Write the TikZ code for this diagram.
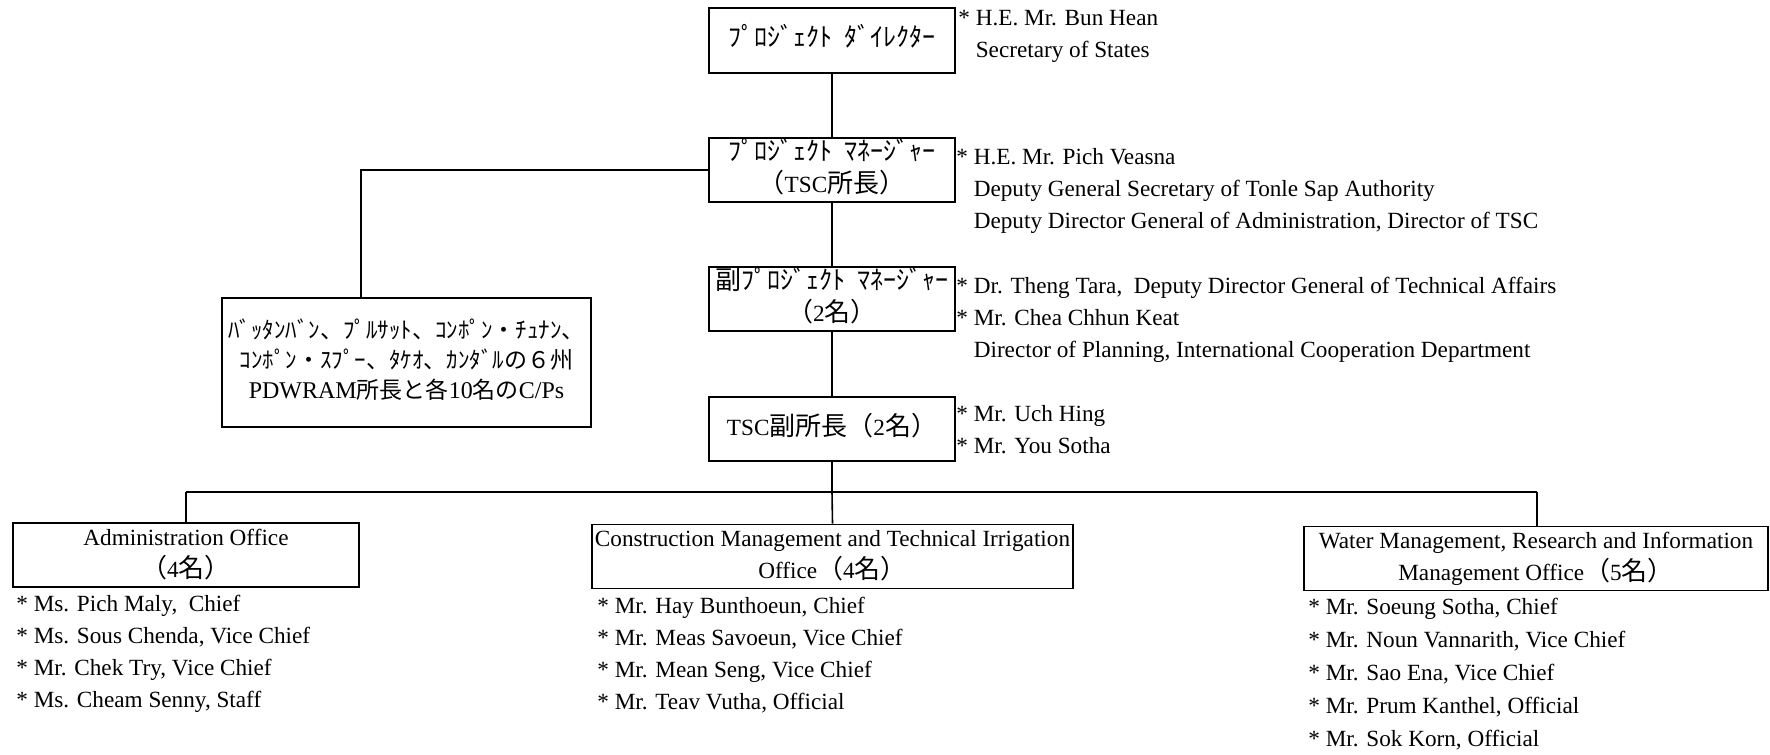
\documentclass[tikz,border=0pt]{standalone}
\usepackage{fontspec}
\setmainfont{Liberation Serif}
\newfontfamily\jp{Noto Sans CJK JP}
\newcommand\mainsz{\fontsize{11.6}{16}\selectfont}
\newcommand\katasz{\fontsize{13}{16}\selectfont}
\newcommand\provsz{\fontsize{11.5}{15}\selectfont}
\newcommand\ind{\hphantom{*\ }}
\newcommand\kgap{\hspace{0.45em}}
\begin{document}
\begin{tikzpicture}[x=0.5pt,y=-0.5pt,
  orgbox/.style={draw, line width=0.8pt, inner sep=0pt, align=center, font=\mainsz},
  info/.style={anchor=west, align=left, inner sep=0pt, font=\mainsz},
  link/.style={line width=0.8pt}]
\path[use as bounding box, fill=white] (0,0) rectangle (1770,754);

% main chain
\node[orgbox, minimum width=123pt, minimum height=32.5pt] (dir) at (832,40.5)
  {\strut{\jp\katasz ﾌﾟﾛｼﾞｪｸﾄ\kgap ﾀﾞｲﾚｸﾀｰ}};
\node[orgbox, minimum width=123pt, minimum height=32pt] (mgr) at (832,170)
  {\strut{\jp\katasz ﾌﾟﾛｼﾞｪｸﾄ\kgap ﾏﾈｰｼﾞｬｰ}\\\strut{\jp\katasz （}TSC{\jp\katasz 所長）}};
\node[orgbox, minimum width=123pt, minimum height=32pt] (dmgr) at (832,299)
  {\strut{\jp\katasz 副ﾌﾟﾛｼﾞｪｸﾄ\kgap ﾏﾈｰｼﾞｬｰ}\\\strut{\jp\katasz （}2{\jp\katasz 名）}};
\node[orgbox, minimum width=123pt, minimum height=32pt] (vdir) at (832,429)
  {\strut TSC{\jp\katasz 副所長（}2{\jp\katasz 名）}};

% provinces box
\node[orgbox, font=\provsz, minimum width=184.5pt, minimum height=64.5pt] (prov) at (406.5,362.5)
  {\strut{\jp ﾊﾞｯﾀﾝﾊﾞﾝ、ﾌﾟﾙｻｯﾄ、ｺﾝﾎﾟﾝ・ﾁｭﾅﾝ、}\\
   \strut{\jp ｺﾝﾎﾟﾝ・ｽﾌﾟｰ、ﾀｹｵ、ｶﾝﾀﾞﾙの６州}\\
   \strut{\fontsize{12}{15}\selectfont PDWRAM}{\jp 所長と各}{\fontsize{12}{15}\selectfont 10}{\jp 名の}{\fontsize{12}{15}\selectfont C/Ps}};

% offices
\node[orgbox, minimum width=173pt, minimum height=32pt] (admin) at (186,555)
  {\strut Administration Office\\\strut{\jp\katasz （}4{\jp\katasz 名）}};
\node[orgbox, minimum width=240.5pt, minimum height=31.5pt] (cons) at (832.5,556.5)
  {\strut Construction Management and Technical Irrigation\\\strut Office{\jp\katasz （}4{\jp\katasz 名）}};
\node[orgbox, minimum width=232pt, minimum height=31.5pt] (water) at (1536,558.5)
  {\strut Water Management, Research and Information\\\strut Management Office{\jp\katasz （}5{\jp\katasz 名）}};

% side texts
\node[info] (t1) at (958,35)
  {\strut* H.E. Mr. Bun Hean\\\strut\ind Secretary of States};
\node[info] (t2) at (956,190)
  {\strut* H.E. Mr. Pich Veasna\\
   \strut\ind Deputy General Secretary of Tonle Sap Authority\\
   \strut\ind Deputy Director General of Administration, Director of TSC};
\node[info] (t3) at (956,319)
  {\strut* Dr. Theng Tara,\ \ Deputy Director General of Technical Affairs\\
   \strut* Mr. Chea Chhun Keat\\
   \strut\ind Director of Planning, International Cooperation Department};
\node[info] (t4) at (956,431)
  {\strut* Mr. Uch Hing\\\strut* Mr. You Sotha};

\node[info] (s1) at (16,653)
  {\strut* Ms. Pich Maly,\ \ Chief\\
   \strut* Ms. Sous Chenda, Vice Chief\\
   \strut* Mr. Chek Try, Vice Chief\\
   \strut* Ms. Cheam Senny, Staff};
\node[info] (s2) at (597,655.5)
  {\strut* Mr. Hay Bunthoeun, Chief\\
   \strut* Mr. Meas Savoeun, Vice Chief\\
   \strut* Mr. Mean Seng, Vice Chief\\
   \strut* Mr. Teav Vutha, Official};
\node[info] (s3) at (1308,674)
  {\strut* Mr. Soeung Sotha, Chief\\[0.5pt]
   \strut* Mr. Noun Vannarith, Vice Chief\\[0.5pt]
   \strut* Mr. Sao Ena, Vice Chief\\[0.5pt]
   \strut* Mr. Prum Kanthel, Official\\[0.5pt]
   \strut* Mr. Sok Korn, Official};

% connectors
\coordinate (pk) at (361,170);
\coordinate (busL) at (186,492);
\coordinate (busM) at (832,492);
\coordinate (busR) at (1537,492);
\draw[link] (dir.south) -- (mgr.north);
\draw[link] (mgr.south) -- (dmgr.north);
\draw[link] (dmgr.south) -- (vdir.north);
\draw[link] (mgr.west) -- (pk) -- (pk |- prov.north);
\draw[link] (vdir.south) -- (busM);
\draw[link] (busL) -- (busR);
\draw[link] (busL) -- (admin.north);
\draw[link] (busM) -- (cons.north);
\draw[link] (busR) -- (busR |- water.north);
\end{tikzpicture}
\end{document}
